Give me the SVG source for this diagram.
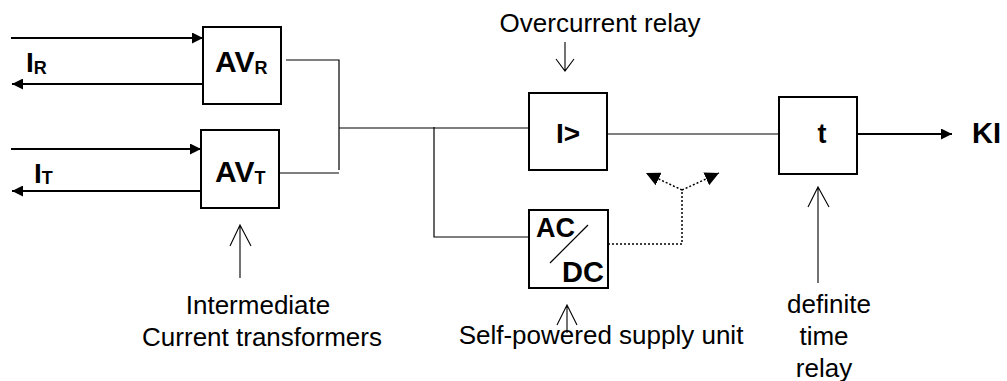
<svg xmlns="http://www.w3.org/2000/svg" width="1007" height="381" viewBox="0 0 1007 381">
<style>
.box{fill:#fff;stroke:#000;stroke-width:2}
.ln{fill:none;stroke:#000;stroke-width:1.2}
.arr{fill:none;stroke:#000;stroke-width:1.8}
.dot{fill:none;stroke:#000;stroke-width:1.5;stroke-dasharray:2 2}
.open{fill:none;stroke:#000;stroke-width:1.1}
text{font-family:"Liberation Sans",Arial,sans-serif;fill:#000}
.lbl{font-size:26px}
.b{font-weight:bold}
</style>
<defs>
<marker id="ah" viewBox="0 0 10 10" refX="10" refY="5" markerWidth="13" markerHeight="11" markerUnits="userSpaceOnUse" orient="auto">
<path d="M0,0 L10,5 L0,10 z" fill="#000"/>
</marker>
<marker id="ahs" viewBox="0 0 10 10" refX="10" refY="5" markerWidth="14" markerHeight="14" markerUnits="userSpaceOnUse" orient="auto">
<path d="M0,0 L10,5 L0,10 z" fill="#000"/>
</marker>
</defs>

<g id="connectors">
<line class="arr" x1="11" y1="38" x2="203" y2="38" marker-end="url(#ah)"/>
<line class="arr" x1="203" y1="84" x2="12" y2="84" marker-end="url(#ah)"/>
<line class="arr" x1="11" y1="149" x2="201" y2="149" marker-end="url(#ah)"/>
<line class="arr" x1="204" y1="191" x2="12" y2="191" marker-end="url(#ah)"/>
<polyline class="ln" points="286,60 339,60 339,170"/>
<line class="ln" x1="280" y1="173" x2="339" y2="173"/>
<line class="ln" x1="339" y1="128" x2="529" y2="128"/>
<polyline class="ln" points="434,127 434,237 529,237"/>
<line class="ln" x1="607" y1="134" x2="779" y2="134"/>
<line class="arr" x1="857" y1="134" x2="952" y2="134" marker-end="url(#ah)"/>
<polyline class="dot" points="608,244 682,244 682,190"/>
<line class="dot" x1="682" y1="190" x2="646" y2="173" marker-end="url(#ahs)"/>
<line class="dot" x1="682" y1="190" x2="719" y2="173" marker-end="url(#ahs)"/>
<path class="open" d="M565,42 L565,71 M556,59 L565,71 L574,59"/>
<path class="open" d="M240,278 L240,225 M230,246 L240,225 L251,246"/>
<path class="open" d="M567,333 L567,305 M557,325 L567,305 L577,325"/>
<path class="open" d="M818,283 L818,187 M808,207 L818,187 L829,207"/>
</g>

<g id="inR">
<text class="b" x="26" y="72" font-size="28">I<tspan font-size="18" dy="2">R</tspan></text>
</g>
<g id="inT">
<text class="b" x="34" y="183" font-size="28">I<tspan font-size="18" dy="1">T</tspan></text>
</g>

<g id="avr">
<rect class="box" x="203" y="27" width="78" height="77"/>
<text class="b" x="215" y="72" font-size="30">AV<tspan font-size="18" dy="2">R</tspan></text>
</g>
<g id="avt">
<rect class="box" x="201" y="130" width="78" height="78"/>
<text class="b" x="215" y="182" font-size="30">AV<tspan font-size="18" dy="2">T</tspan></text>
</g>

<g id="overcurrent">
<rect class="box" x="529" y="93" width="78" height="77"/>
<text class="b" x="568" y="143" font-size="28" text-anchor="middle">I&gt;</text>
</g>

<g id="acdc">
<rect class="box" x="529" y="210" width="79" height="78"/>
<line class="ln" x1="550" y1="263" x2="588" y2="225"/>
<text class="b" x="536" y="237" font-size="27">AC</text>
<text class="b" x="604" y="282" font-size="29" text-anchor="end">DC</text>
</g>

<g id="timer">
<rect class="box" x="779" y="97" width="78" height="77"/>
<text class="b" x="822" y="143" font-size="27" text-anchor="middle">t</text>
</g>

<g id="output">
<text class="b" x="972" y="143" font-size="29">KI</text>
</g>

<g id="labels">
<text class="lbl" x="600" y="32" text-anchor="middle">Overcurrent relay</text>
<text class="lbl" x="258" y="314" text-anchor="middle">Intermediate</text>
<text class="lbl" x="262" y="346" text-anchor="middle">Current transformers</text>
<text class="lbl" x="601" y="344" text-anchor="middle">Self-powered supply unit</text>
<text class="lbl" x="829" y="313" text-anchor="middle">definite</text>
<text class="lbl" x="824" y="345" text-anchor="middle">time</text>
<text class="lbl" x="824" y="377" text-anchor="middle">relay</text>
</g>
</svg>
